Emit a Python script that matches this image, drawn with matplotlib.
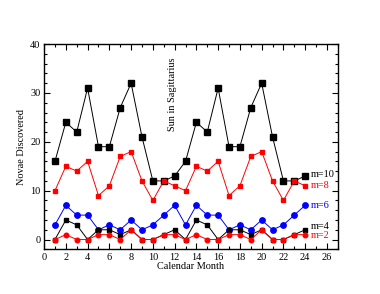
import matplotlib
matplotlib.use("Agg")
import matplotlib.pyplot as plt
from matplotlib.ticker import MultipleLocator

plt.rcParams["font.family"] = ["Liberation Serif", "DejaVu Serif"]

# months 1..24 (two years folded)
months = list(range(1, 25))
m10 = [16, 24, 22, 31, 19, 19, 27, 32, 21, 12, 12, 13,
       16, 24, 22, 31, 19, 19, 27, 32, 21, 12, 12, 13]
m8 = [10, 15, 14, 16, 9, 11, 17, 18, 12, 8, 12, 11,
      10, 15, 14, 16, 9, 11, 17, 18, 12, 8, 12, 11]
m6 = [3, 7, 5, 5, 2, 3, 2, 4, 2, 3, 5, 7,
      3, 7, 5, 5, 2, 3, 2, 4, 2, 3, 5, 7]
m4 = [0, 4, 3, 0, 2, 2, 1, 2, 0, 0, 1, 2,
      0, 4, 3, 0, 2, 2, 1, 2, 0, 0, 1, 2]
m2 = [0, 1, 0, 0, 1, 1, 0, 2, 0, 0, 1, 1,
      0, 1, 0, 0, 1, 1, 0, 2, 0, 0, 1, 1]

fig = plt.figure(figsize=(3.8, 2.94), dpi=100)
ax = fig.add_axes([0.116, 0.152, 0.773, 0.698])

lw = 0.7
ax.plot(months, m10, color="black", lw=lw, marker="s", ms=3.8)
ax.plot(months, m8, color="red", lw=lw, marker="s", ms=2.2)
ax.plot(months, m6, color="blue", lw=lw, marker="o", ms=3.9)
ax.plot(months, m4, color="black", lw=lw, marker="s", ms=2.2)
ax.plot(months, m2, color="red", lw=lw, marker="o", ms=3.3)

fs = 7.4
ax.text(24.5, 13.3, "m=10", color="black", fontsize=fs, va="center")
ax.text(24.5, 11.0, "m=8", color="red", fontsize=fs, va="center")
ax.text(24.5, 7.0, "m=6", color="blue", fontsize=fs, va="center")
ax.text(24.5, 2.6, "m=4", color="black", fontsize=fs, va="center")
ax.text(24.5, 0.9, "m=2", color="red", fontsize=fs, va="center")
ax.text(11.8, 37.3, "Sun in Sagittarius", rotation=90, fontsize=fs,
        ha="center", va="top")

ax.set_xlim(0, 27)
ax.set_ylim(-2, 40)
ax.xaxis.set_major_locator(MultipleLocator(2))
ax.xaxis.set_minor_locator(MultipleLocator(1))
ax.yaxis.set_major_locator(MultipleLocator(10))
ax.yaxis.set_minor_locator(MultipleLocator(2))
ax.tick_params(which="both", direction="in", top=True, right=True,
               labelsize=fs, width=0.8, pad=2.5)
ax.tick_params(which="major", length=4)
ax.tick_params(which="minor", length=2)
for s in ax.spines.values():
    s.set_linewidth(1.0)

ax.set_xlabel("Calendar Month", fontsize=fs, labelpad=0)
ax.set_ylabel("Novae Discovered", fontsize=fs, labelpad=3)

fig.savefig("out.png", dpi=100)
